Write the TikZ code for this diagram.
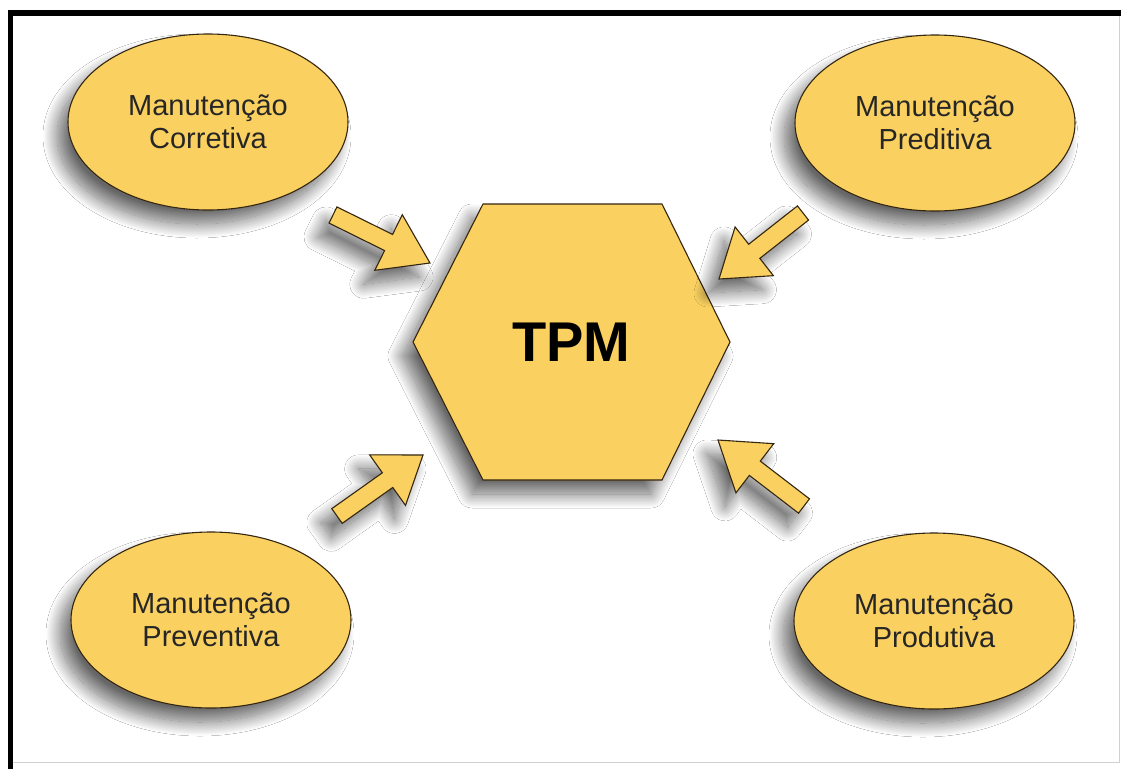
\documentclass[tikz,border=0pt]{standalone}
\usepackage{fontspec}
\setmainfont{Liberation Sans}
\usetikzlibrary{shapes.geometric,calc,shadows.blur}

\definecolor{tpmfill}{RGB}{250,209,96}
\definecolor{tpmline}{RGB}{52,38,16}

\tikzset{
  softshadow/.style={blur shadow={shadow xshift=-11pt, shadow yshift=-14pt,
      shadow blur radius=14pt, shadow blur steps=24, shadow opacity=60}},
  topic/.style={ellipse, draw=tpmline, line width=1.1pt, fill=tpmfill,
      minimum width=280pt, minimum height=176pt, inner sep=0pt,
      align=center, text=black!85, font=\fontsize{29}{33}\selectfont, softshadow},
  hexa/.style={draw=tpmline, line width=1.1pt, fill=tpmfill, softshadow},
  arrowbody/.style={draw=tpmline, line width=1.1pt, fill=tpmfill, line join=miter, softshadow},
  title/.style={font=\fontsize{56}{60}\selectfont\bfseries, text=black},
  frameline/.style={fill=black},
  thinframe/.style={draw=black!18, line width=0.8pt}
}

% block arrow from a tail coordinate to a tip coordinate
\newcommand{\blockarrowto}[2]{%
  \path ($(#1)!62pt!(#2)$) coordinate (#1-base);
  \draw[arrowbody]
    ($(#1)!9pt!90:(#2)$) -- ($(#1-base)!9pt!90:(#2)$) --
    ($(#1-base)!31pt!90:(#2)$) -- (#2) --
    ($(#1-base)!31pt!-90:(#2)$) -- ($(#1-base)!9pt!-90:(#2)$) --
    ($(#1)!9pt!-90:(#2)$) -- cycle;
}

\begin{document}
\begin{tikzpicture}[x=1pt, y=-1pt]
  \useasboundingbox (0,0) rectangle (1121,769);
  \fill[white] (0,0) rectangle (1121,769);

  % outer frame
  \draw[thinframe] (1119,16) -- (1119,762) -- (13,762);
  \fill[frameline] (8,10) rectangle (1121,16);
  \fill[frameline] (8,10) rectangle (13,769);

  % central hexagon
  \coordinate (h1) at (413,342);
  \coordinate (h2) at (483,204);
  \coordinate (h3) at (662,204);
  \coordinate (h4) at (730,342);
  \coordinate (h5) at (662,480);
  \coordinate (h6) at (483,480);
  \draw[hexa] (h1) -- (h2) -- (h3) -- (h4) -- (h5) -- (h6) -- cycle;
  \node[title] (tpm) at (571.5,342) {TPM};

  % surrounding maintenance types
  \node[topic] (corretiva)  at (208,122) {Manutenção\\Corretiva};
  \node[topic] (preditiva)  at (935,123) {Manutenção\\Preditiva};
  \node[topic] (preventiva) at (211,620) {Manutenção\\Preventiva};
  \node[topic] (produtiva)  at (934,621) {Manutenção\\Produtiva};

  % arrows pointing into the hexagon
  \coordinate (a1) at (333,215);  \coordinate (a1tip) at (430,263);
  \coordinate (a2) at (803,213);  \coordinate (a2tip) at (719,279);
  \coordinate (a3) at (337,516);  \coordinate (a3tip) at (423,455);
  \coordinate (a4) at (804,506);  \coordinate (a4tip) at (718,440);
  \blockarrowto{a1}{a1tip}
  \blockarrowto{a2}{a2tip}
  \blockarrowto{a3}{a3tip}
  \blockarrowto{a4}{a4tip}
\end{tikzpicture}
\end{document}
